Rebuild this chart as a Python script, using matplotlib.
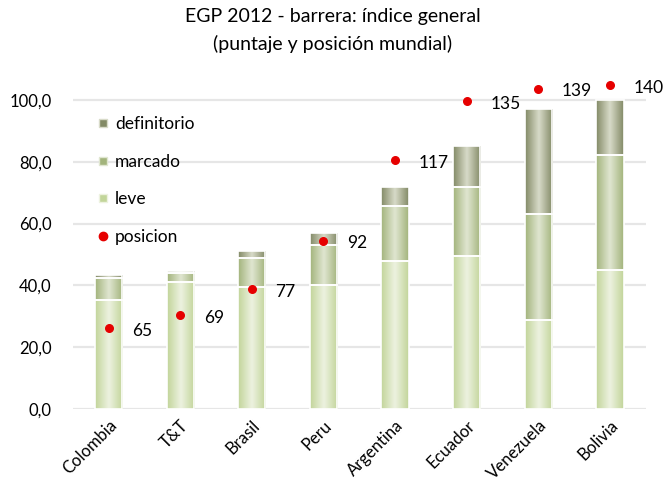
import numpy as np
import matplotlib
matplotlib.use("Agg")
import matplotlib.pyplot as plt
from matplotlib.colors import LinearSegmentedColormap
from matplotlib.lines import Line2D

plt.rcParams["font.family"] = ["Lato", "DejaVu Sans"]

# ---------- DATA ----------
countries = ["Colombia", "T&T", "Brasil", "Peru", "Argentina", "Ecuador", "Venezuela", "Bolivia"]
leve = [35.3, 41.0, 39.4, 40.1, 47.9, 49.4, 28.8, 45.0]
marcado = [7.2, 3.1, 9.4, 13.0, 17.8, 22.3, 34.2, 37.3]
definitorio = [0.8, 0.6, 2.4, 4.0, 6.2, 13.5, 34.1, 17.7]
posicion = [65, 69, 77, 92, 117, 135, 139, 140]

yticks = [0, 20, 40, 60, 80, 100]

# (edge colour, centre colour) for the horizontal gradient of each stack
styles = {
    "leve": ("#c2d59a", "#edf2e0"),
    "marcado": ("#a3b47c", "#e0e6d1"),
    "definitorio": ("#838a66", "#d8dbc9"),
}


def gradient_fill(ax, bars, edge, centre):
    cmap = LinearSegmentedColormap.from_list("g", [edge, centre, edge])
    grad = np.linspace(0, 1, 64).reshape(1, -1)
    for b in bars:
        x0, y0 = b.get_x(), b.get_y()
        w, h = b.get_width(), b.get_height()
        im = ax.imshow(grad, cmap=cmap, extent=(x0, x0 + w, y0, y0 + h),
                       aspect="auto", zorder=2, interpolation="bicubic")
        im.set_clip_path(b)


# ---------- PLOTTING ----------
fig = plt.figure(figsize=(6.65, 4.86), dpi=100)
ax = fig.add_axes([0.1093, 0.1584, 0.8618, 0.6994])

x = np.arange(len(countries))
width = 0.38
bottom = np.zeros(len(countries))
for name, vals in [("leve", leve), ("marcado", marcado), ("definitorio", definitorio)]:
    bars = ax.bar(x, vals, width, bottom=bottom, facecolor="none",
                  edgecolor="white", linewidth=1.2, zorder=3)
    gradient_fill(ax, bars, *styles[name])
    bottom += np.array(vals)

ax.set_xlim(-0.5, len(countries) - 0.5)
ax.set_ylim(0, 110)
ax.set_yticks(yticks)
ax.set_yticklabels([f"{v:.1f}".replace(".", ",") for v in yticks])
ax.set_xticks(x)
ax.set_xticklabels(countries, rotation=45, ha="right", rotation_mode="anchor")
ax.tick_params(axis="both", length=0, labelsize=12, colors="#000000")
ax.tick_params(axis="y", pad=15)
ax.tick_params(axis="x", pad=6)
ax.yaxis.grid(True, color="#e6e6e6", linewidth=1.6, zorder=0)
ax.set_axisbelow(True)
for s in ax.spines.values():
    s.set_visible(False)

# positions on a hidden secondary axis
ax2 = ax.twinx()
ax2.set_ylim(40, 145)
ax2.set_xlim(ax.get_xlim())
ax2.scatter(x, posicion, s=30, color="#e60000", zorder=5)
for xi, p in zip(x, posicion):
    ax2.annotate(str(p), (xi, p), xytext=(17, -2), textcoords="offset points",
                 ha="left", va="center", fontsize=12.5)
ax2.axis("off")

handles = [
    Line2D([], [], marker="s", linestyle="none", markersize=5.5,
           markerfacecolor=styles["definitorio"][0], markeredgecolor=styles["definitorio"][1]),
    Line2D([], [], marker="s", linestyle="none", markersize=5.5,
           markerfacecolor=styles["marcado"][0], markeredgecolor=styles["marcado"][1]),
    Line2D([], [], marker="s", linestyle="none", markersize=5.5,
           markerfacecolor=styles["leve"][0], markeredgecolor=styles["leve"][1]),
    Line2D([], [], marker="o", linestyle="none", markersize=6, color="#e60000"),
]
ax2.legend(handles, ["definitorio", "marcado", "leve", "posicion"],
           loc="upper left", bbox_to_anchor=(0.018, 0.908), frameon=False,
           fontsize=12.5, labelspacing=1.25, handlelength=0.5, handletextpad=0.45)

fig.text(0.5, 0.967, "EGP 2012 - barrera: índice general", ha="center", va="center", fontsize=14)
fig.text(0.5, 0.909, "(puntaje y posición mundial)", ha="center", va="center", fontsize=14)

fig.savefig("out.png", dpi=100)
